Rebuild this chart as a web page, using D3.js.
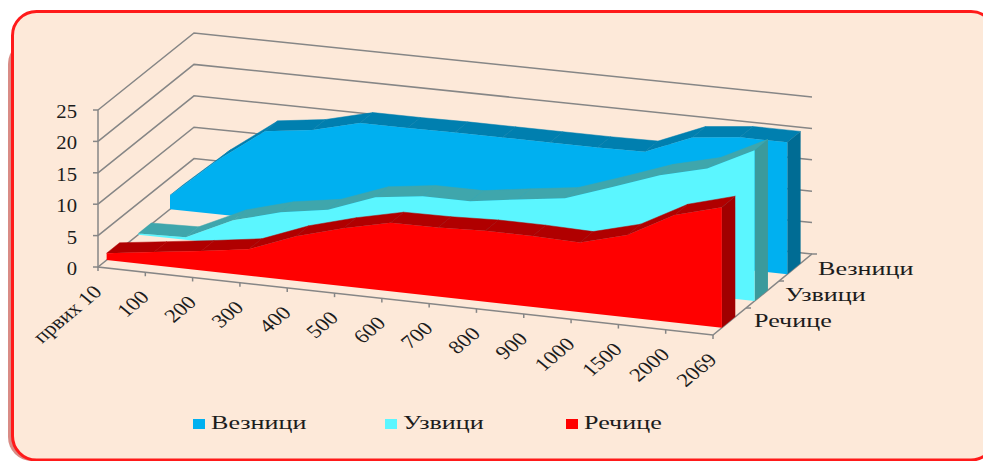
<!DOCTYPE html>
<html><head><meta charset="utf-8">
<script src="https://cdn.jsdelivr.net/npm/d3@7"></script>
<style>html,body{margin:0;padding:0;background:#fff;overflow:hidden}svg{display:block}text{font-family:"Liberation Serif",serif;fill:#1c1c1c}</style>
</head><body><svg id="c" width="983" height="461"></svg>
<script>
const categories=["првих 10","100","200","300","400","500","600","700","800","900","1000","1500","2000","2069"];
const vezniciValues=[2.2,8.6,14,15,16.9,16.9,17,17,17,17,17.1,20.2,21,21];
const uzviciValues=[0.2,0.4,3.9,6,7.2,10,11,11,12.1,13.1,15.7,18.4,20.3,24];
const recicheValues=[1.1,2.1,3.1,4.2,7.1,9.2,10.9,11,11.3,11.3,11.1,13.1,17.1,19.2];
const seriesNames=["Везници","Узвици","Речице"];
const yTicks=[0,5,10,15,20,25];

const svg=d3.select("#c");
const bg="#FDE9D9";
// frame
const framePath=(x,y,w,h,r)=>{const p=d3.path();p.moveTo(x+r,y);p.lineTo(x+w-r,y);p.arcTo(x+w,y,x+w,y+r,r);p.lineTo(x+w,y+h-r);p.arcTo(x+w,y+h,x+w-r,y+h,r);p.lineTo(x+r,y+h);p.arcTo(x,y+h,x,y+h-r,r);p.lineTo(x,y+r);p.arcTo(x,y,x+r,y,r);p.closePath();return p.toString();};
svg.append("path").attr("d",framePath(8,40,60,421,24)).attr("fill","#D98C86");
svg.append("path").attr("d",framePath(12.5,11.5,982.5,448.5,24)).attr("fill",bg).attr("stroke","#FF1A1A").attr("stroke-width",3);

// oblique projection through scales
const tScale=d3.scalePoint(categories,[0,1]);
const heightScale=d3.scaleLinear([0,25],[0,157]);
const leftX=d3.scaleLinear([0,1],[98,194]),leftY=d3.scaleLinear([0,1],[267,190]);
const rightX=d3.scaleLinear([0,1],[713,812]),rightY=d3.scaleLinear([0,1],[335,254]);
const project=(t,d,v)=>{const xl=leftX(d),xr=rightX(d),yl=leftY(d),yr=rightY(d);
  return [xl+(xr-xl)*t, yl+(yr-yl)*t-heightScale(v)];};
const poly=pts=>d3.line()(pts)+"Z";
const grey="#868686";

// gridlines
const g=svg.append("g").attr("fill","none").attr("stroke",grey).attr("stroke-width",1.5);
yTicks.forEach(v=>{
  g.append("path").attr("d",d3.line()([project(0,0,v),project(0,1,v),project(1,1,v)]));
  g.append("path").attr("d",d3.line()([project(0,0,v),[project(0,0,v)[0]-5,project(0,0,v)[1]]]));
});
g.append("path").attr("d",d3.line()([project(0,0,25),project(0,0,0),project(1,0,0),project(1,1,0),[project(1,1,0)[0]+5,project(1,1,0)[1]]]));
categories.forEach(c=>{const a=project(tScale(c),0,0);g.append("path").attr("d",d3.line()([a,[a[0],a[1]+4]]));});
[1/3,2/3].forEach(d=>{const a=project(1,d,0);g.append("path").attr("d",d3.line()([a,[a[0]+5,a[1]]]));});

// series
const layers=[
 {name:seriesNames[0],vals:vezniciValues,d0:.75,d1:.885,face:"#00B0F0",top:"#007FAF",side:"#006C94"},
 {name:seriesNames[1],vals:uzviciValues,d0:.42,d1:.555,face:"#5BF6FF",top:"#3FA6AC",side:"#3B9A9C"},
 {name:seriesNames[2],vals:recicheValues,d0:.09,d1:.225,face:"#FF0000",top:"#B00000",side:"#A00000"}];
layers.forEach(s=>{
  const gs=svg.append("g");
  const ts=categories.map(c=>tScale(c));
  d3.pairs(d3.range(ts.length)).forEach(([a,b])=>{
    gs.append("path").attr("fill",s.top).attr("stroke",s.top).attr("stroke-width",.5)
      .attr("d",poly([project(ts[a],s.d0,s.vals[a]),project(ts[b],s.d0,s.vals[b]),project(ts[b],s.d1,s.vals[b]),project(ts[a],s.d1,s.vals[a])]));
  });
  const n=ts.length-1;
  gs.append("path").attr("fill",s.side).attr("d",poly([project(1,s.d0,0),project(1,s.d0,s.vals[n]),project(1,s.d1,s.vals[n]),project(1,s.d1,0)]));
  const front=ts.map((t,i)=>project(t,s.d0,s.vals[i])).concat([project(1,s.d0,0),project(0,s.d0,0)]);
  gs.append("path").attr("fill",s.face).attr("d",poly(front));
});

// labels
const stretch=1.2;
yTicks.forEach(v=>{const p=project(0,0,v);
  svg.append("text").attr("transform",`translate(${p[0]-21},${p[1]+8}) scale(1.15,1)`).attr("text-anchor","end").attr("font-size",18).text(v);});
categories.forEach(c=>{const a=project(tScale(c),0,0);
  svg.append("text").attr("transform",`translate(${a[0]+5},${a[1]+26}) scale(${stretch},1) rotate(-45)`).attr("text-anchor","end").attr("font-size",19).text(c);});
const depthLabelX=[818,785,754],depthLabelY=[275,301,327];
seriesNames.forEach((n,i)=>{
  svg.append("text").attr("transform",`translate(${depthLabelX[i]},${depthLabelY[i]}) scale(1.45,1)`).attr("font-size",18).text(n);
});
// legend
const legendX=[193,385,566];
layers.forEach((s,i)=>{
  svg.append("rect").attr("x",legendX[i]).attr("y",419).attr("width",12).attr("height",10).attr("fill",s.face);
  svg.append("text").attr("transform",`translate(${legendX[i]+18},429) scale(1.45,1)`).attr("font-size",18).text(s.name);
});
</script></body></html>
